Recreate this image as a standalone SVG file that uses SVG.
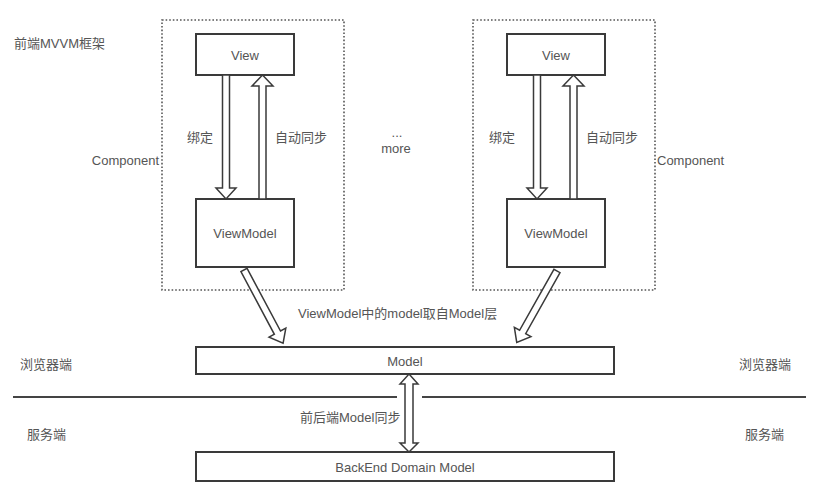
<svg xmlns="http://www.w3.org/2000/svg" width="830" height="496" viewBox="0 0 830 496">
<style>
text{font-family:"Liberation Sans","Noto Sans CJK SC",sans-serif;font-size:13px;fill:#555}
.c{text-anchor:middle}
.box{fill:#fff;stroke:#3a3a3a;stroke-width:2}
.dot{fill:none;stroke:#555;stroke-width:1.6;stroke-dasharray:1.6 2}
.arr{fill:#fff;stroke:#3a3a3a;stroke-width:1.5;stroke-linejoin:miter}
.sep{stroke:#444;stroke-width:2}
</style>
<rect width="830" height="496" fill="#fff"/>
<text x="14" y="47.5">前端MVVM框架</text>
<text class="c" x="397" y="137">...</text>
<text class="c" x="396" y="152.5">more</text>

<g id="component-left">
<rect class="dot" x="162" y="20" width="182" height="270"/>
<text x="159" y="164.5" text-anchor="end">Component</text>
<g id="view-left"><rect class="box" x="196" y="34" width="98" height="41"/><text class="c" x="245" y="59.5">View</text></g>
<g id="viewmodel-left"><rect class="box" x="196" y="199" width="98" height="68"/><text class="c" x="245" y="237.5">ViewModel</text></g>
</g>

<g id="component-right">
<rect class="dot" x="473" y="20" width="182" height="270"/>
<text x="657" y="164.5">Component</text>
<g id="view-right"><rect class="box" x="507" y="34" width="98" height="41"/><text class="c" x="556" y="59.5">View</text></g>
<g id="viewmodel-right"><rect class="box" x="507" y="199" width="98" height="68"/><text class="c" x="556" y="237.5">ViewModel</text></g>
</g>

<g id="model"><rect class="box" x="196" y="347" width="418" height="27"/><text class="c" x="405" y="365.5">Model</text></g>
<g id="backend"><rect class="box" x="196" y="452" width="418" height="29"/><text class="c" x="405" y="471.5">BackEnd Domain Model</text></g>

<g id="layers">
<line class="sep" x1="13" y1="397" x2="397" y2="397"/>
<line class="sep" x1="422" y1="397" x2="806" y2="397"/>
<text x="20" y="368.5">浏览器端</text>
<text x="739" y="368.5">浏览器端</text>
<text x="27" y="438.5">服务端</text>
<text x="745" y="438.5">服务端</text>
</g>

<g id="connectors">
<polygon class="arr" points="222.5,75 229.5,75 229.5,188 236,188 226,199 216,188 222.5,188"/>
<polygon class="arr" points="262.5,75 273,86 266,86 266,199 259,199 259,86 252,86"/>
<polygon class="arr" points="533.5,75 540.5,75 540.5,188 547,188 537,199 527,188 533.5,188"/>
<polygon class="arr" points="573.5,75 584,86 577,86 577,199 570,199 570,86 563,86"/>
<text x="187" y="142">绑定</text>
<text x="275" y="142">自动同步</text>
<text x="489" y="142">绑定</text>
<text x="586" y="142">自动同步</text>
<polygon class="arr" transform="translate(244,270) rotate(61.9)" points="0,-3.5 71,-3.5 71,-9.5 83,0 71,9.5 71,3.5 0,3.5"/>
<polygon class="arr" transform="translate(557,271) rotate(119.4)" points="0,-3.5 70,-3.5 70,-9.5 82,0 70,9.5 70,3.5 0,3.5"/>
<text x="298" y="317.5">ViewModel中的model取自Model层</text>
<polygon class="arr" points="409,374 418,384 413,384 413,443 418,443 409,452 400,443 405,443 405,384 400,384"/>
<text x="300" y="421.5">前后端Model同步</text>
</g>
</svg>
